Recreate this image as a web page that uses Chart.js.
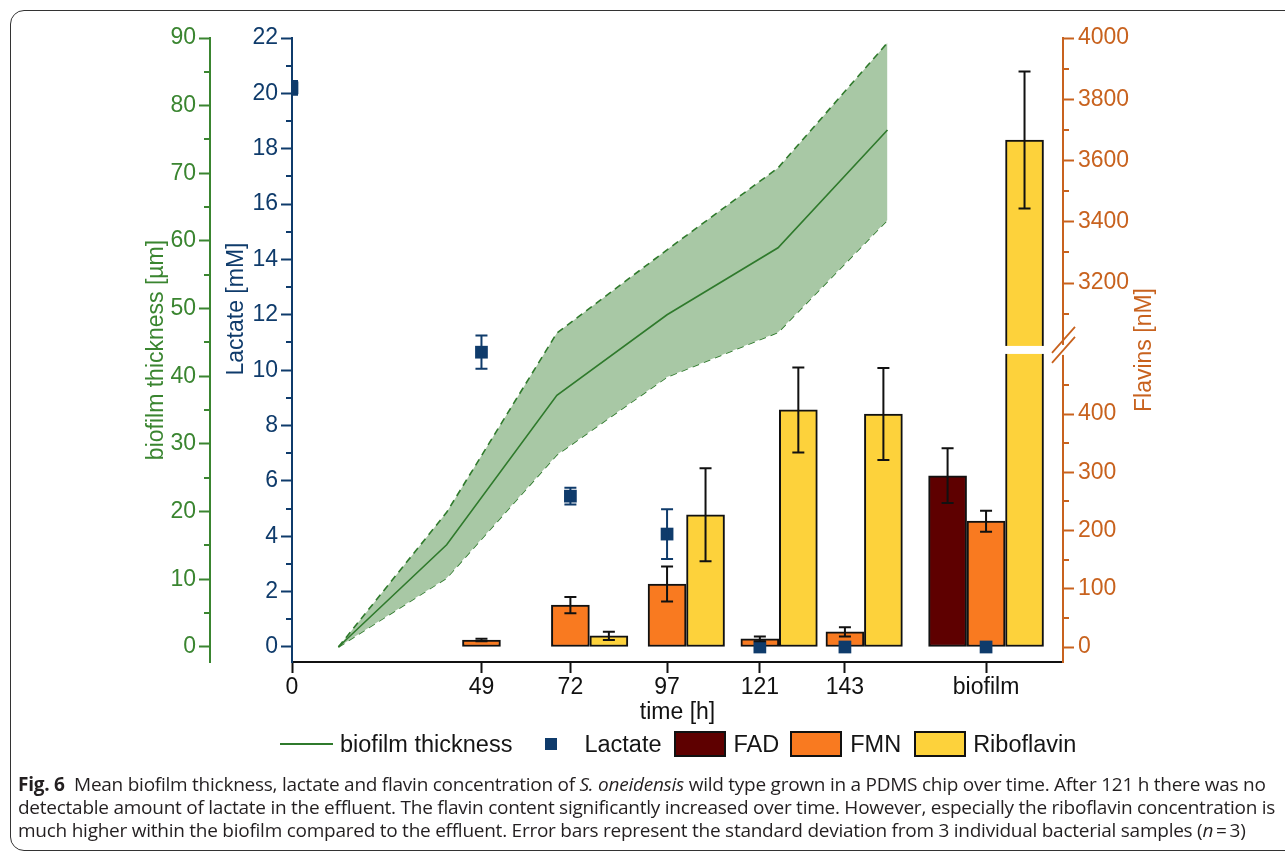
<!DOCTYPE html>
<html>
<head>
<meta charset="utf-8">
<script src="https://cdn.jsdelivr.net/npm/chart.js@4/dist/chart.umd.min.js"></script>
<style>
  html, body { margin: 0; padding: 0; background: #fff; }
  body { width: 1285px; height: 853px; position: relative; overflow: hidden; font-family: "Liberation Sans", Arial, sans-serif; }
  #frame { position: absolute; left: 10px; top: 10px; width: 1300px; height: 839px; border: 1.5px solid #333; border-radius: 14px; }
  #chart { position: absolute; left: 0; top: 0; }
  #legend { position: absolute; left: 280px; top: 729px; height: 30px; display: flex; align-items: center; font-size: 23.5px; color: #151515; white-space: nowrap; }
  #legend .sym { display: inline-block; box-sizing: border-box; }
  #caption { position: absolute; left: 18px; top: 773px; font-family: "Open Sans", sans-serif; font-size: 19px; letter-spacing: -0.25px; line-height: 23px; color: #231f20; white-space: nowrap; }
</style>
</head>
<body>
<div id="frame"></div>
<canvas id="chart" width="1285" height="853"></canvas>
<div id="legend"></div>
<div id="caption">
  <b>Fig. 6</b>&nbsp; Mean biofilm thickness, lactate and flavin concentration of <i>S. oneidensis</i> wild type grown in a PDMS chip over time. After 121 h there was no<br>
  detectable amount of lactate in the effluent. The flavin content significantly increased over time. However, especially the riboflavin concentration is<br>
  much higher within the biofilm compared to the effluent. Error bars represent the standard deviation from 3 individual bacterial samples (<i>n</i>&#8201;=&#8201;3)
</div>
<script>
// x categories: sampling times in hours, the biofilm sample sits after 143 h
const sampleTimes = [0, 49, 72, 97, 121, 143];
const biofilmX = 179.5;
const xTickLabels = ['0', '49', '72', '97', '121', '143', 'biofilm'];

// biofilm thickness [µm]
const thicknessTime = [12, 40, 68.5, 97, 125.7, 154];
const thicknessMean = [0, 15.1, 37.2, 49.1, 59.0, 76.4];
const thicknessUpper = [0, 19.9, 46.4, 58.7, 70.8, 89.3];
const thicknessLower = [0, 10.2, 28.4, 39.9, 46.5, 63.1];

// lactate [mM] (last value = biofilm)
const lactate = [20.2, 10.65, 5.45, 4.08, 0, 0, 0];
const lactateErr = [0.25, 0.6, 0.3, 0.9, 0, 0, 0];

// flavins [nM]
const fad = [null, null, null, null, null, null, 294];
const fadErr = [0, 0, 0, 0, 0, 0, 47];
const fmn = [null, 12, 72, 108, 14, 26, 216];
const fmnErr = [0, 2, 14, 30, 4, 8, 18];
const riboflavin = [null, null, 19, 227, 407, 400, 3667];
const riboflavinErr = [0, 0, 7, 80, 73, 79, 224];

// tick labels
const thicknessTicks = [0, 10, 20, 30, 40, 50, 60, 70, 80, 90];
const thicknessMinor = [5, 15, 25, 35, 45, 55, 65, 75, 85];
const lactateTicks = [0, 2, 4, 6, 8, 10, 12, 14, 16, 18, 20, 22];
const lactateMinor = [1, 3, 5, 7, 9, 11, 13, 15, 17, 19, 21];
const flavinTicks = [0, 100, 200, 300, 400, 3200, 3400, 3600, 3800, 4000];
const flavinMinor = [50, 150, 250, 350, 450, 3100, 3300, 3500, 3700, 3900];

// broken flavin axis: 0-500 linear, then 3000-4000 compressed above the break
const BREAK_LOW = 500, BREAK_HIGH = 3000, UPPER_BASE = 519.7, UPPER_SCALE = 0.5258;
const BREAK_AT = 510;
function toDisplay(v) {
  return v <= BREAK_LOW ? v : UPPER_BASE + (v - BREAK_HIGH) * UPPER_SCALE;
}

const green = '#3a8530';
const lineGreen = '#2f7a2c';
const blue = '#0f3b6b';
const orange = '#c8621e';
const font = { family: '"Liberation Sans", Arial, sans-serif', size: 23 };

const xCats = sampleTimes.concat([biofilmX]);
const barSlot = 9.95; // one bar width in hours

function barData(values, errs, slot) {
  const out = [];
  values.forEach((v, i) => {
    if (v == null) return;
    out.push({ x: xCats[i] + slot * barSlot, y: toDisplay(v),
               lo: toDisplay(v - errs[i]), hi: toDisplay(v + errs[i]) });
  });
  return out;
}

const thickPts = arr => arr.map((v, i) => ({ x: thicknessTime[i], y: v }));

const datasets = [
  { type: 'line', label: 'upper', data: thickPts(thicknessUpper), yAxisID: 'yG', order: 3,
    borderColor: lineGreen, borderWidth: 1.6, borderDash: [7, 5], pointRadius: 0,
    fill: '+1', backgroundColor: '#a8c8a5' },
  { type: 'line', label: 'lower', data: thickPts(thicknessLower), yAxisID: 'yG', order: 3,
    borderColor: lineGreen, borderWidth: 1.6, borderDash: [7, 5], pointRadius: 0, fill: false },
  { type: 'line', label: 'biofilm thickness', data: thickPts(thicknessMean), yAxisID: 'yG', order: 2,
    borderColor: lineGreen, borderWidth: 1.6, pointRadius: 0, fill: false },
  { type: 'bar', label: 'FAD', data: barData(fad, fadErr, -1), yAxisID: 'yF', order: 1,
    backgroundColor: '#5e0000', borderColor: '#111', borderWidth: 2, borderSkipped: false,
    barThickness: 38, grouped: false, errColor: '#111' },
  { type: 'bar', label: 'FMN', data: barData(fmn, fmnErr, 0), yAxisID: 'yF', order: 1,
    backgroundColor: '#f97a20', borderColor: '#111', borderWidth: 2, borderSkipped: false,
    barThickness: 38, grouped: false, errColor: '#111' },
  { type: 'bar', label: 'Riboflavin', data: barData(riboflavin, riboflavinErr, 1), yAxisID: 'yF', order: 1,
    backgroundColor: '#fdd23b', borderColor: '#111', borderWidth: 2, borderSkipped: false,
    barThickness: 38, grouped: false, errColor: '#111', broken: true },
  { type: 'scatter', label: 'Lactate', yAxisID: 'yL', order: 0, clip: 0,
    data: lactate.map((v, i) => ({ x: xCats[i], y: v, lo: v - lactateErr[i], hi: v + lactateErr[i] })),
    pointStyle: 'rect', pointRadius: 9, pointHoverRadius: 9, backgroundColor: blue, borderWidth: 0,
    errColor: blue }
];

function verticalTitle(ctx, text, x, y, color) {
  ctx.save();
  ctx.translate(x, y);
  ctx.rotate(-Math.PI / 2);
  ctx.fillStyle = color;
  ctx.font = '23px "Liberation Sans", Arial, sans-serif';
  ctx.textAlign = 'center';
  ctx.textBaseline = 'middle';
  ctx.fillText(text, 0, 0);
  ctx.restore();
}

const extras = {
  id: 'extras',
  afterDatasetsDraw(chart) {
    const ctx = chart.ctx;
    const a = chart.chartArea;
    const yF = chart.scales.yF;
    const gy = yF.getPixelForValue(BREAK_AT);
    ctx.save();
    ctx.beginPath();
    ctx.rect(a.left, a.top - 30, a.right - a.left, a.bottom - a.top + 30);
    ctx.clip();
    chart.data.datasets.forEach((ds, i) => {
      const meta = chart.getDatasetMeta(i);
      if (ds.broken) {
        meta.data.forEach(bar => {
          if (bar.y < gy - 6) {
            ctx.fillStyle = '#fff';
            ctx.fillRect(bar.x - bar.width / 2 - 2, gy - 4, bar.width + 6, 8);
          }
        });
      }
      if (!ds.errColor) return;
      const ys = chart.scales[ds.yAxisID];
      ctx.strokeStyle = ds.errColor;
      ctx.lineWidth = 2;
      meta.data.forEach((el, j) => {
        const d = ds.data[j];
        if (d.hi === d.lo) return;
        const x = el.x, y1 = ys.getPixelForValue(d.lo), y2 = ys.getPixelForValue(d.hi);
        ctx.beginPath();
        ctx.moveTo(x, y1); ctx.lineTo(x, y2);
        ctx.moveTo(x - 6, y1); ctx.lineTo(x + 6, y1);
        ctx.moveTo(x - 6, y2); ctx.lineTo(x + 6, y2);
        ctx.stroke();
      });
    });
    ctx.restore();
  },
  afterDraw(chart) {
    const ctx = chart.ctx;
    const minors = [
      { id: 'yG', vals: thicknessMinor, color: green, dir: -1 },
      { id: 'yL', vals: lactateMinor, color: blue, dir: -1 },
      { id: 'yF', vals: flavinMinor.map(toDisplay), color: orange, dir: 1 }
    ];
    ctx.save();
    ctx.lineWidth = 2;
    minors.forEach(m => {
      const s = chart.scales[m.id];
      const x0 = m.dir < 0 ? s.right : s.left;
      ctx.strokeStyle = m.color;
      ctx.beginPath();
      m.vals.forEach(v => {
        const y = Math.round(s.getPixelForValue(v));
        ctx.moveTo(x0, y); ctx.lineTo(x0 + m.dir * 6, y);
      });
      ctx.stroke();
    });
    // axis break on the flavin axis
    const yF = chart.scales.yF;
    const gy = yF.getPixelForValue(BREAK_AT);
    const ax = yF.left;
    ctx.fillStyle = '#fff';
    ctx.fillRect(ax - 3, gy - 5, 6, 10);
    ctx.strokeStyle = orange;
    ctx.lineWidth = 1.8;
    ctx.beginPath();
    ctx.moveTo(ax - 11, gy + 13); ctx.lineTo(ax + 12, gy - 13);
    ctx.moveTo(ax - 11, gy + 3); ctx.lineTo(ax + 12, gy - 23);
    ctx.stroke();
    ctx.restore();
    const a = chart.chartArea;
    verticalTitle(ctx, 'Lactate [mM]', chart.scales.yL.left + 27, 309, blue);
    verticalTitle(ctx, 'Flavins [nM]', yF.right - 18, (a.top + a.bottom) / 2, orange);
  }
};

const chart = new Chart(document.getElementById('chart'), {
  data: { datasets: datasets },
  plugins: [extras],
  options: {
    responsive: false,
    animation: false,
    devicePixelRatio: 1,
    layout: { padding: { left: 139, right: 122, top: 38, bottom: 121 } },
    plugins: { legend: { display: false }, tooltip: { enabled: false } },
    scales: {
      x: {
        type: 'linear', position: 'bottom', min: 0, max: 199.4, offset: false,
        afterBuildTicks: s => { s.ticks = xCats.map(v => ({ value: v })); },
        afterFit: s => { s.height = 70; },
        ticks: { autoSkip: false, maxRotation: 0, padding: 1, color: '#111', font: font,
                 callback: (v, i) => xTickLabels[i] },
        grid: { offset: false, drawOnChartArea: false, tickLength: 11, tickWidth: 2, tickColor: '#111' },
        border: { color: '#111', width: 2 },
        title: { display: true, text: 'time [h]', color: '#111', font: font, padding: { top: 0, bottom: 6 } }
      },
      yG: {
        type: 'linear', position: 'left', weight: 1, min: -2.217, max: 90,
        afterBuildTicks: s => { s.ticks = thicknessTicks.map(v => ({ value: v })); },
        afterFit: s => { s.width = 71; },
        ticks: { autoSkip: false, padding: 3, color: green, font: font },
        grid: { drawOnChartArea: false, tickLength: 11, tickWidth: 2, tickColor: green },
        border: { color: green, width: 2 },
        title: { display: true, text: 'biofilm thickness [µm]', color: green, font: font, padding: { top: 4, bottom: 0 } }
      },
      yL: {
        type: 'linear', position: 'left', weight: 0, min: -0.5419, max: 22,
        afterBuildTicks: s => { s.ticks = lactateTicks.map(v => ({ value: v })); },
        afterFit: s => { s.width = 82; },
        ticks: { autoSkip: false, padding: 3, color: blue, font: font },
        grid: { drawOnChartArea: false, tickLength: 11, tickWidth: 2, tickColor: blue },
        border: { color: blue, width: 2 },
        title: { display: false }
      },
      yF: {
        type: 'linear', position: 'right', min: -25.75, max: 1045.5,
        afterBuildTicks: s => { s.ticks = flavinTicks.map(v => ({ value: toDisplay(v) })); },
        afterFit: s => { s.width = 100; },
        ticks: { autoSkip: false, padding: 4, color: orange, font: font,
                 callback: (v, i) => String(flavinTicks[i]) },
        grid: { drawOnChartArea: false, tickLength: 11, tickWidth: 2, tickColor: orange },
        border: { color: orange, width: 2 },
        title: { display: false }
      }
    }
  }
});

// legend built from the datasets
const legendSpec = [
  { label: 'biofilm thickness', kind: 'line', before: 0, gap: 7 },
  { label: 'Lactate', kind: 'point', before: 33, gap: 27 },
  { label: 'FAD', kind: 'box', before: 12, gap: 8 },
  { label: 'FMN', kind: 'box', before: 11, gap: 8 },
  { label: 'Riboflavin', kind: 'box', before: 13, gap: 7 }
];
const legendEl = document.getElementById('legend');
legendSpec.forEach(item => {
  const ds = datasets.find(d => d.label === item.label);
  const sym = document.createElement('span');
  sym.className = 'sym';
  if (item.kind === 'line') {
    sym.style.cssText = 'width:53px;height:2px;background:' + ds.borderColor;
  } else if (item.kind === 'point') {
    sym.style.cssText = 'width:12px;height:12px;background:' + ds.backgroundColor;
  } else {
    sym.style.cssText = 'width:52px;height:26px;border:2px solid #111;background:' + ds.backgroundColor;
  }
  sym.style.marginLeft = item.before + 'px';
  sym.style.marginRight = item.gap + 'px';
  const txt = document.createElement('span');
  txt.textContent = item.label;
  legendEl.appendChild(sym);
  legendEl.appendChild(txt);
});
</script>
</body>
</html>
